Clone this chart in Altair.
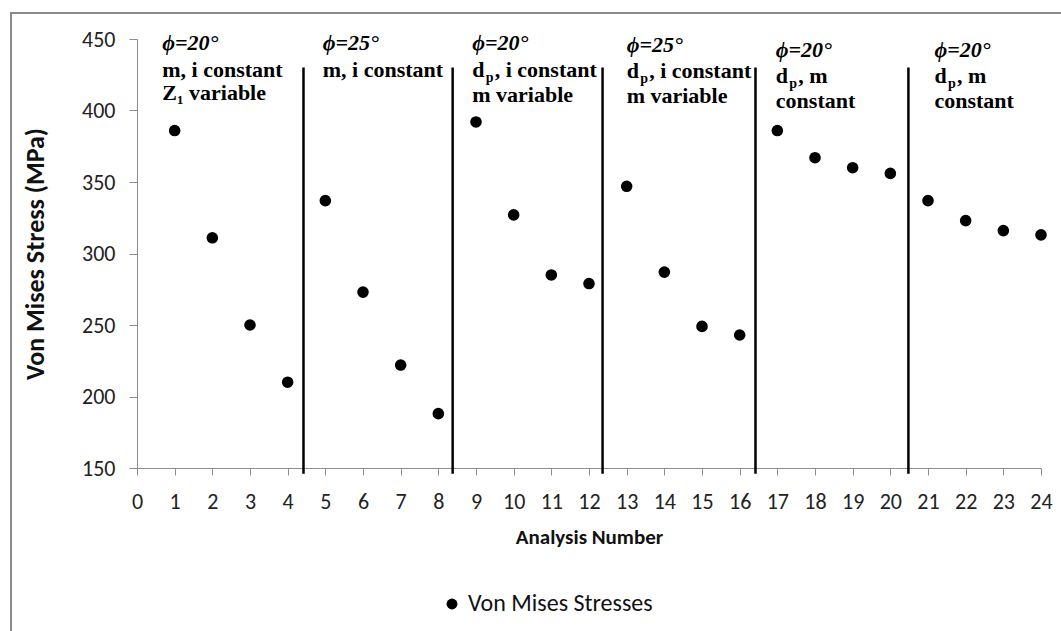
import altair as alt
import pandas as pd

# ---- data ----
analysis = list(range(1, 25))
stress = [386, 311, 250, 210, 337, 273, 222, 188,
          392, 327, 285, 279, 347, 287, 249, 243,
          386, 367, 360, 356, 337, 323, 316, 313]
series_name = "Von Mises Stresses"
x_ticks = list(range(0, 25))
y_ticks = [150, 200, 250, 300, 350, 400, 450]

separators = [4.42, 8.38, 12.36, 16.42, 20.48]
sep_top = 430
sep_bottom = 146

# annotation blocks
ann_x = [0.67, 4.93, 8.9, 13.0, 16.96, 21.17]
ann_phi = ["ϕ=20°", "ϕ=25°", "ϕ=20°", "ϕ=25°", "ϕ=20°", "ϕ=20°"]
ann_l2_sub = [False, False, True, True, True, True]
ann_l2 = ["m, i constant", "m, i constant", ", i constant", ", i constant", ", m", ", m"]
ann_l3 = ["Z₁ variable", "", "m variable", "m variable", "constant", "constant"]
ann_y1 = [442.4, 442.0, 442.4, 441.0, 437.5, 437.5]
ann_y2 = [423.5, 423.5, 423.5, 422.8, 419.3, 419.3]
ann_y3 = [407.5, 407.5, 406.0, 405.4, 401.9, 401.9]

df = pd.DataFrame({"n": analysis, "s": stress, "series": series_name})
sep_df = pd.DataFrame({"x": separators, "y": sep_top, "y2": sep_bottom})

phi_df = pd.DataFrame({"x": ann_x, "y": ann_y1, "t": ann_phi})
plain_rows, d_rows, rest_rows = [], [], []
for i in range(len(ann_x)):
    if ann_l2_sub[i]:
        d_rows.append({"x": ann_x[i], "y": ann_y2[i], "t": "d"})
        rest_rows.append({"x": ann_x[i], "y": ann_y2[i], "t": ann_l2[i]})
    else:
        plain_rows.append({"x": ann_x[i], "y": ann_y2[i], "t": ann_l2[i]})
    if ann_l3[i]:
        plain_rows.append({"x": ann_x[i], "y": ann_y3[i], "t": ann_l3[i]})
plain_df = pd.DataFrame(plain_rows)
d_df = pd.DataFrame(d_rows)
rest_df = pd.DataFrame(rest_rows)
sub_df = pd.DataFrame([{"x": r["x"], "y": r["y"], "t": "p"} for r in d_rows])

xs = alt.Scale(domain=[0, 24], nice=False, zero=False)
ys = alt.Scale(domain=[150, 450], nice=False, zero=False)

sans = "Carlito, Lato, sans-serif"
serif = "Liberation Serif, Times New Roman, serif"

x_axis = alt.Axis(values=x_ticks, title="Analysis Number", grid=False,
                  labelOverlap=False, labelFlush=False,
                  labelFontSize=22, labelFont=sans, labelColor="#222",
                  labelPadding=16, tickSize=7, tickColor="#8c8c8c",
                  domainColor="#8c8c8c", titleFont=sans, titleFontSize=21,
                  titleFontWeight="bold", titlePadding=14, titleColor="#111")
y_axis = alt.Axis(values=y_ticks, title="Von Mises Stress (MPa)", grid=False,
                  labelOverlap=False, labelFlush=False,
                  labelFontSize=22, labelFont=sans, labelColor="#222",
                  labelPadding=14, tickSize=8, tickColor="#8c8c8c",
                  domainColor="#8c8c8c", titleFont=sans, titleFontSize=26,
                  titleFontWeight="bold", titlePadding=33, titleColor="#111")

X = lambda f: alt.X(f, scale=xs, axis=x_axis)
Y = lambda f: alt.Y(f, scale=ys, axis=y_axis)

points = alt.Chart(df).mark_point(filled=True, size=135, opacity=1, shape="circle").encode(
    x=X("n:Q"), y=Y("s:Q"),
    color=alt.Color("series:N", scale=alt.Scale(range=["black"]),
                    legend=alt.Legend(orient="none", legendX=303, legendY=553, title=None,
                                      labelFont=sans, labelFontSize=24, labelColor="#111",
                                      labelLimit=0,
                                      symbolType="circle", symbolSize=120,
                                      symbolFillColor="black", symbolStrokeWidth=0)),
)

rules = alt.Chart(sep_df).mark_rule(color="black", strokeWidth=2.5, clip=False).encode(
    x=X("x:Q"), y=Y("y:Q"), y2="y2:Q")

enc = dict(x=X("x:Q"), y=Y("y:Q"), text="t:N")

phi = alt.Chart(phi_df).mark_text(align="left", baseline="alphabetic", font=serif,
                                  fontSize=22, fontWeight="bold", fontStyle="italic",
                                  color="black").encode(**enc)

txt = alt.Chart(plain_df).mark_text(align="left", baseline="alphabetic", font=serif,
                                    fontSize=22, fontWeight="bold", color="black").encode(**enc)

dtxt = alt.Chart(d_df).mark_text(align="left", baseline="alphabetic", font=serif,
                                 fontSize=22, fontWeight="bold", color="black").encode(**enc)

subtxt = alt.Chart(sub_df).mark_text(align="left", baseline="alphabetic", font=serif,
                                     fontSize=14, fontWeight="bold", color="black",
                                     dx=13.5, dy=5).encode(**enc)

resttxt = alt.Chart(rest_df).mark_text(align="left", baseline="alphabetic", font=serif,
                                       fontSize=22, fontWeight="bold", color="black",
                                       dx=22.5).encode(**enc)

frame = alt.Chart(pd.DataFrame({"a": [0]})).mark_rect(
    fill="transparent", stroke="#8a8a8a", strokeWidth=2, clip=False).encode(
    x=alt.value(-126), x2=alt.value(940), y=alt.value(-26), y2=alt.value(650))

chart = alt.layer(frame, points, rules, phi, txt, dtxt, subtxt, resttxt).properties(
    width=904, height=429,
    autosize=alt.AutoSizeParams(type="none"),
    padding={"left": 137, "top": 39, "right": 20, "bottom": 163},
    background="white",
).configure_view(stroke=None)

chart.save("out.html", embed_options={"renderer": "svg", "actions": False})
